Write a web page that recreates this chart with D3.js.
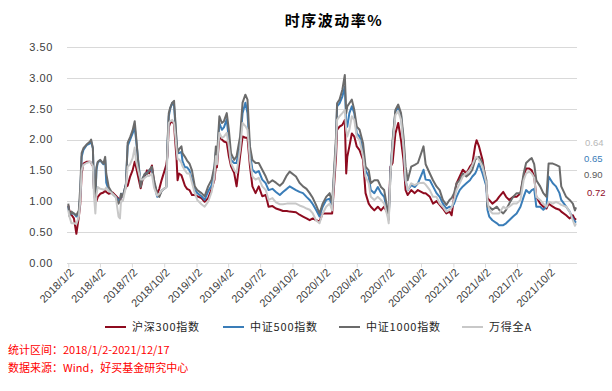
<!DOCTYPE html>
<html><head><meta charset="utf-8">
<script src="https://cdn.jsdelivr.net/npm/d3@7"></script>
<style>
html,body{margin:0;padding:0;background:#fff;}
svg{display:block;}
</style></head><body>
<svg id="chart" width="612" height="391"></svg>
<script>
// ---------------- DATA ----------------
const dates = [
"2018-01-02","2018-01-05","2018-01-11","2018-01-18","2018-01-25","2018-02-01","2018-02-05","2018-02-09","2018-02-14","2018-02-23",
"2018-03-05","2018-03-08","2018-03-13","2018-03-16","2018-03-20","2018-03-23","2018-03-27","2018-04-03","2018-04-12","2018-04-17",
"2018-04-20","2018-04-27","2018-05-08","2018-05-17","2018-05-25","2018-05-29","2018-06-01","2018-06-06","2018-06-15","2018-06-20",
"2018-06-27","2018-07-04","2018-07-10","2018-07-14","2018-07-20","2018-07-27","2018-08-01","2018-08-08","2018-08-14","2018-08-20",
"2018-08-28","2018-09-03","2018-09-12","2018-09-18","2018-09-25","2018-10-08","2018-10-11","2018-10-15","2018-10-19","2018-10-25",
"2018-10-30","2018-11-02","2018-11-06","2018-11-09","2018-11-13","2018-11-20","2018-11-23","2018-11-30","2018-12-06","2018-12-13",
"2018-12-20","2018-12-28","2019-01-04","2019-01-16","2019-01-25","2019-02-04","2019-02-14","2019-02-22","2019-02-26","2019-03-01",
"2019-03-08","2019-03-15","2019-03-21","2019-03-29","2019-04-04","2019-04-10","2019-04-19","2019-04-26","2019-05-06","2019-05-13",
"2019-05-21","2019-05-27","2019-06-03","2019-06-10","2019-06-19","2019-06-28","2019-07-08","2019-07-18","2019-07-26","2019-08-06",
"2019-08-16","2019-08-27","2019-09-05","2019-09-16","2019-09-24","2019-10-12","2019-10-22","2019-11-01","2019-11-11","2019-11-20",
"2019-11-29","2019-12-08","2019-12-18","2019-12-27","2020-01-06","2020-01-16","2020-01-23","2020-02-03","2020-02-06","2020-02-13",
"2020-02-21","2020-02-28","2020-03-03","2020-03-06","2020-03-12","2020-03-19","2020-03-26","2020-04-02","2020-04-10","2020-04-20",
"2020-04-27","2020-05-06","2020-05-12","2020-05-22","2020-06-01","2020-06-10","2020-06-19","2020-06-29","2020-07-02","2020-07-07",
"2020-07-13","2020-07-21","2020-07-29","2020-08-06","2020-08-13","2020-08-19","2020-08-25","2020-09-04","2020-09-14","2020-09-23",
"2020-10-09","2020-10-15","2020-10-27","2020-11-05","2020-11-15","2020-11-24","2020-12-03","2020-12-13","2020-12-22","2020-12-28",
"2021-01-04","2021-01-11","2021-01-20","2021-01-29","2021-02-08","2021-02-18","2021-02-25","2021-03-05","2021-03-09","2021-03-16",
"2021-03-26","2021-04-06","2021-04-09","2021-04-14","2021-04-23","2021-05-06","2021-05-12","2021-05-24","2021-06-01","2021-06-10",
"2021-06-21","2021-07-01","2021-07-12","2021-07-21","2021-07-28","2021-08-06","2021-08-13","2021-08-20","2021-08-26","2021-09-06",
"2021-09-15","2021-09-24","2021-09-30","2021-10-12","2021-10-21","2021-10-31","2021-11-05","2021-11-19","2021-11-29","2021-12-08",
"2021-12-14","2021-12-17"
];
const hs300 = [
0.93,0.85,0.78,0.72,0.47,0.75,0.95,1.45,1.61,1.64,
1.64,1.62,1.57,1.20,0.98,1.00,1.07,1.12,1.14,1.17,
1.15,1.12,1.14,1.09,1.04,1.00,1.07,1.08,1.23,1.25,
1.40,1.50,1.64,1.55,1.39,1.21,1.34,1.40,1.50,1.45,
1.58,1.30,1.12,1.20,1.35,1.59,1.73,2.20,2.27,2.30,
2.25,2.00,1.70,1.34,1.45,1.42,1.37,1.25,1.20,1.18,
1.10,1.10,1.08,1.05,0.99,1.05,1.20,1.35,1.57,1.55,
2.05,2.00,1.97,1.95,1.73,1.57,1.46,1.24,1.73,2.05,
2.03,2.03,1.57,1.24,1.13,1.24,1.08,1.10,0.91,0.92,
0.88,0.86,0.84,0.84,0.83,0.82,0.78,0.75,0.72,0.69,
0.72,0.69,0.67,0.80,0.80,0.80,0.80,1.72,2.16,2.21,
2.24,2.32,1.45,1.72,1.89,2.10,2.05,1.89,1.83,1.67,
1.13,0.96,0.91,0.85,0.91,0.85,0.91,0.80,0.82,1.56,
1.62,2.10,2.27,1.99,1.67,1.18,1.10,1.18,1.13,1.18,
1.13,1.13,1.07,0.96,1.00,0.94,0.88,0.80,0.83,0.77,
1.07,1.29,1.40,1.51,1.45,1.56,1.61,1.90,1.99,1.89,
1.67,1.24,1.05,1.02,0.96,1.02,1.07,1.15,1.07,1.02,
1.07,1.07,1.13,1.40,1.53,1.53,1.50,1.40,1.07,0.96,
0.91,0.88,0.96,0.91,0.88,0.86,0.83,0.77,0.72,0.77,
0.70,0.72
];
const zz500 = [
0.92,0.78,0.80,0.80,0.75,0.80,1.10,1.72,1.83,1.91,
1.94,1.97,1.86,1.20,1.00,1.50,1.63,1.66,1.60,1.67,
1.30,1.18,1.12,1.07,1.02,1.00,1.12,1.07,1.28,1.90,
2.00,2.10,2.20,2.00,1.65,1.30,1.36,1.44,1.46,1.50,
1.53,1.29,1.07,1.10,1.17,1.23,1.86,2.38,2.50,2.60,
2.55,2.30,1.96,1.80,1.78,1.80,1.65,1.55,1.55,1.50,
1.35,1.18,1.13,1.08,1.02,1.16,1.26,1.54,1.80,1.65,
2.27,2.16,2.20,2.33,2.00,1.67,1.62,1.62,1.95,2.43,
2.60,2.43,1.78,1.51,1.46,1.49,1.35,1.29,1.18,1.20,
1.15,1.10,1.15,1.20,1.24,1.18,1.15,1.13,1.07,1.02,
0.95,0.86,0.75,0.91,1.02,1.04,0.91,1.94,2.54,2.59,
2.70,2.86,2.27,2.21,2.43,2.54,2.43,2.10,2.05,1.83,
1.50,1.40,1.18,1.13,1.23,1.13,1.07,0.82,0.75,1.50,
1.94,2.46,2.52,2.40,1.94,1.34,1.18,1.26,1.23,1.29,
1.51,1.35,1.34,1.24,1.13,1.07,0.96,0.88,0.91,0.90,
0.96,1.07,1.18,1.24,1.29,1.34,1.40,1.45,1.50,1.61,
1.45,1.24,0.86,0.75,0.69,0.64,0.61,0.61,0.64,0.69,
0.75,0.80,0.91,1.07,1.18,1.13,1.18,1.20,0.91,0.91,
0.86,0.91,1.40,1.29,1.24,1.13,1.02,0.91,0.83,0.72,
0.67,0.65
];
const zz1000 = [
0.96,0.76,0.83,0.80,0.77,0.85,1.23,1.78,1.86,1.92,
1.97,2.00,1.86,1.20,1.00,1.55,1.64,1.67,1.61,1.72,
1.45,1.23,1.12,1.07,0.96,1.00,1.12,1.07,1.28,1.95,
2.04,2.15,2.30,2.05,1.64,1.23,1.36,1.45,1.44,1.50,
1.56,1.35,1.12,1.07,1.17,1.23,1.91,2.43,2.52,2.60,
2.63,2.36,2.00,1.78,1.84,1.89,1.78,1.72,1.66,1.61,
1.50,1.24,1.18,1.13,1.08,1.24,1.35,1.57,1.89,1.70,
2.38,2.27,2.30,2.43,2.16,1.78,1.67,1.73,2.05,2.60,
2.73,2.65,1.89,1.67,1.62,1.62,1.51,1.40,1.29,1.34,
1.30,1.25,1.30,1.42,1.48,1.40,1.30,1.24,1.20,1.13,
1.05,0.94,0.80,0.96,1.07,1.13,0.96,2.05,2.59,2.65,
2.81,3.05,2.43,2.54,2.59,2.65,2.48,2.21,2.16,1.94,
1.56,1.50,1.29,1.34,1.34,1.23,1.18,0.85,0.70,1.45,
1.99,2.48,2.57,2.43,2.05,1.56,1.34,1.56,1.59,1.62,
1.89,1.60,1.45,1.34,1.24,1.18,1.02,0.94,1.02,1.05,
1.13,1.29,1.34,1.45,1.40,1.45,1.51,1.67,1.70,1.72,
1.61,1.34,0.91,0.91,0.86,0.91,0.86,0.80,0.86,0.96,
1.07,1.13,1.13,1.45,1.62,1.67,1.70,1.60,1.34,1.24,
1.13,1.07,1.61,1.61,1.59,1.56,1.24,1.07,1.02,0.96,
0.85,0.90
];
const windA = [
0.85,0.75,0.64,0.64,0.63,0.75,1.00,1.50,1.59,1.62,
1.64,1.62,1.57,1.10,0.80,1.10,1.23,1.20,1.19,1.19,
1.22,1.17,1.12,1.07,0.75,0.72,1.00,1.00,1.23,1.56,
1.60,1.70,1.87,1.65,1.50,1.35,1.35,1.38,1.41,1.41,
1.44,1.22,1.09,1.12,1.17,1.23,1.75,2.27,2.30,2.32,
2.27,2.10,1.85,1.68,1.68,1.62,1.57,1.50,1.45,1.45,
1.30,1.13,1.02,0.95,0.91,0.99,1.15,1.40,1.73,1.60,
2.11,2.03,2.05,2.11,1.89,1.62,1.51,1.46,1.84,2.27,
2.22,2.16,1.67,1.40,1.35,1.38,1.24,1.18,1.02,1.05,
0.98,0.95,0.95,0.96,0.96,0.96,0.93,0.91,0.88,0.86,
0.80,0.69,0.64,0.80,0.91,0.96,0.85,1.89,2.32,2.38,
2.43,2.48,2.16,2.05,2.16,2.38,2.32,2.05,1.99,1.72,
1.40,1.29,1.07,1.02,1.07,1.02,0.96,0.74,0.64,1.45,
1.89,2.40,2.46,2.32,1.89,1.34,1.18,1.29,1.26,1.29,
1.30,1.27,1.18,1.07,1.07,0.96,0.91,0.83,0.86,0.90,
1.02,1.18,1.29,1.40,1.45,1.51,1.59,1.70,1.72,1.67,
1.56,1.29,1.00,0.86,0.80,0.80,0.80,0.91,0.88,0.91,
0.96,0.96,1.02,1.34,1.45,1.48,1.45,1.38,1.07,1.02,
0.96,0.91,0.99,0.96,0.99,0.96,0.94,0.91,0.83,0.69,
0.60,0.64
];
const seriesNames = ["沪深300指数","中证500指数","中证1000指数","万得全A"];
const yTickValues = [0,0.5,1.0,1.5,2.0,2.5,3.0,3.5];
const xTickDates = ["2018-01-02","2018-04-02","2018-07-02","2018-10-02","2019-01-02","2019-04-02","2019-07-02","2019-10-02",
"2020-01-02","2020-04-02","2020-07-02","2020-10-02","2021-01-02","2021-04-02","2021-07-02","2021-10-02"];
const titleText = "时序波动率%";
const noteLines = ["统计区间：2018/1/2-2021/12/17","数据来源：Wind，好买基金研究中心"];

// ---------------- LAYOUT / STYLE ----------------
const colors = ["#8e0b1f","#3a7db8","#6b6b6b","#c8c8c8"];
const labelColors = ["#8e0b1f","#3a7db8","#595959","#b8b8b8"];
const seriesData = [hs300, zz500, zz1000, windA];
const endLabelY = [192.7, 158.3, 175, 142.7];
const endLabelX = [587, 584, 584, 585];
const legendLineX = [105, 223, 339, 462];

const parse = d3.timeParse("%Y-%m-%d");
const fmtTick = d => `${d.getFullYear()}/${d.getMonth()+1}/${d.getDate()}`;
const svg = d3.select("#chart");
const numFont = "'Liberation Sans', Arial, sans-serif";
const cjkFont = "'Noto Sans CJK SC', 'Liberation Sans', sans-serif";

const x = d3.scaleTime().domain([parse(dates[0]), parse(dates[dates.length-1])]).range([68.3, 576]);
const y = d3.scaleLinear().domain([0, 3.5]).range([262.7, 47.3]);

// gridlines
svg.append("g").selectAll("line").data(yTickValues.filter(v => v > 0)).join("line")
  .attr("x1", 67).attr("x2", 577)
  .attr("y1", d => Math.round(y(d)) + 0.5).attr("y2", d => Math.round(y(d)) + 0.5)
  .attr("stroke", "#d9d9d9").attr("stroke-width", 1);

// y labels
svg.append("g").selectAll("text").data(yTickValues).join("text")
  .attr("x", 53).attr("y", d => y(d)).attr("dy", "0.35em")
  .attr("text-anchor", "end")
  .style("font-family", numFont).style("font-size", "11px").style("letter-spacing", "0.6px")
  .attr("fill", "#404040")
  .text(d => d3.format(".2f")(d));

// x axis
const xAxis = d3.axisBottom(x)
  .tickValues(xTickDates.map(parse))
  .tickFormat(fmtTick)
  .tickSize(4).tickSizeOuter(0);
const gx = svg.append("g").attr("transform", `translate(0,${Math.round(y(0)) + 0.5})`).call(xAxis);
gx.select(".domain").attr("stroke", "#d9d9d9").attr("d", "M67,0H577");
gx.selectAll(".tick line").attr("stroke", "#d9d9d9");
gx.selectAll(".tick text")
  .attr("x", 0).attr("y", 0).attr("dy", "0.35em")
  .attr("text-anchor", "end")
  .attr("transform", "translate(3,7) rotate(-45)")
  .style("font-family", numFont).style("font-size", "11px")
  .attr("fill", "#404040");

// lines
const line = d3.line()
  .x((d, i) => x(parse(dates[i])))
  .y(d => y(d));
svg.append("g").selectAll("path").data(seriesData).join("path")
  .attr("d", d => line(d))
  .attr("fill", "none")
  .attr("stroke", (d, i) => colors[i])
  .attr("stroke-width", 2)
  .attr("stroke-linejoin", "round");

// end labels
svg.append("g").selectAll("text").data(seriesData).join("text")
  .attr("x", (d, i) => endLabelX[i]).attr("y", (d, i) => endLabelY[i]).attr("dy", "0.35em")
  .style("font-family", numFont).style("font-size", "9.5px")
  .attr("fill", (d, i) => labelColors[i])
  .text(d => d3.format(".2f")(d[d.length - 1]));

// title
svg.append("text")
  .attr("x", 334).attr("y", 26).attr("text-anchor", "middle")
  .style("font-family", cjkFont).style("font-size", "15px").style("font-weight", "bold")
  .style("letter-spacing", "1.5px")
  .attr("fill", "#000")
  .text(titleText);

// legend
const lg = svg.append("g");
seriesNames.forEach((name, i) => {
  lg.append("line").attr("x1", legendLineX[i]).attr("x2", legendLineX[i] + 21)
    .attr("y1", 327).attr("y2", 327).attr("stroke", colors[i]).attr("stroke-width", 2);
  lg.append("text").attr("x", legendLineX[i] + 27).attr("y", 327).attr("dy", "0.36em")
    .style("font-family", cjkFont).style("font-size", "11px").style("letter-spacing", "0.8px")
    .attr("fill", "#262626").text(name);
});

// notes
svg.append("g").selectAll("text").data(noteLines).join("text")
  .attr("x", 8).attr("y", (d, i) => 350 + i * 18.3).attr("dy", "0.36em")
  .style("font-family", cjkFont).style("font-size", "11px")
  .attr("fill", "#ff0000").text(d => d);
</script>
</body></html>
